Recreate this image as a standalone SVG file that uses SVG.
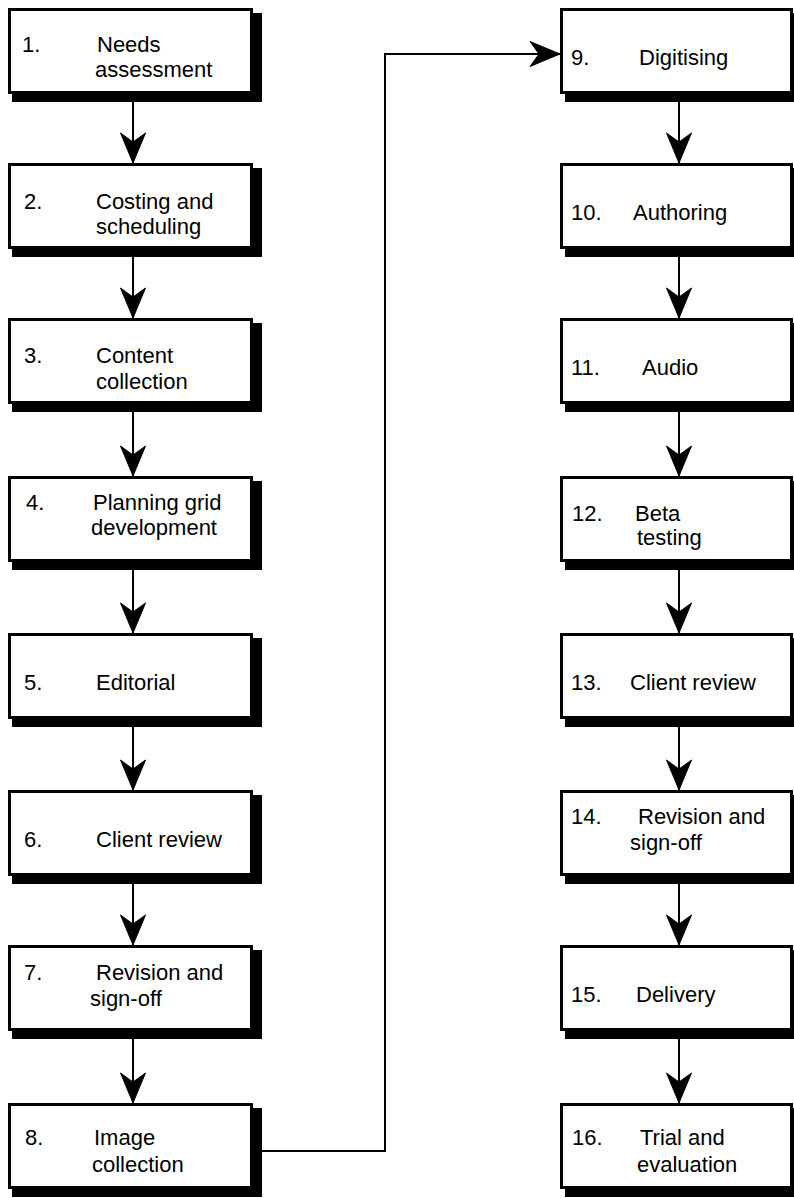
<svg xmlns="http://www.w3.org/2000/svg" width="794" height="1198" viewBox="0 0 794 1198">
<style>
.sh{fill:#000;stroke:none}
.bx{fill:#fff;stroke:#000;stroke-width:3}
.t{font-family:"Liberation Sans",Arial,sans-serif;font-size:22px;fill:#000}
.c{fill:none;stroke:#000;stroke-width:2}
</style>
<defs>
<marker id="ah" markerUnits="userSpaceOnUse" markerWidth="32" markerHeight="28" viewBox="-31 -14 32 28" refX="0" refY="0" orient="auto">
<path d="M0,0 L-30,-12.5 L-21,0 L-30,12.5 Z" fill="#000" stroke="#000" stroke-width="1"/>
</marker>
</defs>
<rect width="794" height="1198" fill="#fff"/>
<g id="connectors">
<line class="c" x1="133" y1="102" x2="133" y2="163" marker-end="url(#ah)"/>
<line class="c" x1="133" y1="257" x2="133" y2="318" marker-end="url(#ah)"/>
<line class="c" x1="133" y1="412" x2="133" y2="476" marker-end="url(#ah)"/>
<line class="c" x1="133" y1="570" x2="133" y2="633" marker-end="url(#ah)"/>
<line class="c" x1="133" y1="727" x2="133" y2="790" marker-end="url(#ah)"/>
<line class="c" x1="133" y1="884" x2="133" y2="945" marker-end="url(#ah)"/>
<line class="c" x1="133" y1="1039" x2="133" y2="1103" marker-end="url(#ah)"/>
<polyline class="c" points="262,1151 385,1151 385,54 560,54" marker-end="url(#ah)"/>
<line class="c" x1="679" y1="102" x2="679" y2="163" marker-end="url(#ah)"/>
<line class="c" x1="679" y1="257" x2="679" y2="318" marker-end="url(#ah)"/>
<line class="c" x1="679" y1="412" x2="679" y2="476" marker-end="url(#ah)"/>
<line class="c" x1="679" y1="570" x2="679" y2="633" marker-end="url(#ah)"/>
<line class="c" x1="679" y1="727" x2="679" y2="790" marker-end="url(#ah)"/>
<line class="c" x1="679" y1="884" x2="679" y2="945" marker-end="url(#ah)"/>
<line class="c" x1="679" y1="1039" x2="679" y2="1103" marker-end="url(#ah)"/>
</g>
<g id="n1"><rect class="sh" x="12" y="13" width="250" height="89"/><rect class="bx" x="9.5" y="9.5" width="242" height="83"/>
<text class="t" x="22" y="52">1.</text><text class="t" x="97" y="52">Needs</text><text class="t" x="95" y="77">assessment</text></g>
<g id="n2"><rect class="sh" x="12" y="168" width="250" height="89"/><rect class="bx" x="9.5" y="164.5" width="242" height="83"/>
<text class="t" x="24" y="209">2.</text><text class="t" x="96" y="209">Costing and</text><text class="t" x="96" y="234">scheduling</text></g>
<g id="n3"><rect class="sh" x="12" y="323" width="250" height="89"/><rect class="bx" x="9.5" y="319.5" width="242" height="83"/>
<text class="t" x="24" y="363">3.</text><text class="t" x="96" y="363">Content</text><text class="t" x="96" y="389">collection</text></g>
<g id="n4"><rect class="sh" x="12" y="481" width="250" height="89"/><rect class="bx" x="9.5" y="477.5" width="242" height="83"/>
<text class="t" x="26" y="510">4.</text><text class="t" x="93" y="510">Planning grid</text><text class="t" x="91" y="535">development</text></g>
<g id="n5"><rect class="sh" x="12" y="638" width="250" height="89"/><rect class="bx" x="9.5" y="634.5" width="242" height="83"/>
<text class="t" x="24" y="690">5.</text><text class="t" x="96" y="690">Editorial</text></g>
<g id="n6"><rect class="sh" x="12" y="795" width="250" height="89"/><rect class="bx" x="9.5" y="791.5" width="242" height="83"/>
<text class="t" x="24" y="847">6.</text><text class="t" x="96" y="847">Client review</text></g>
<g id="n7"><rect class="sh" x="12" y="950" width="250" height="89"/><rect class="bx" x="9.5" y="946.5" width="242" height="83"/>
<text class="t" x="24" y="980">7.</text><text class="t" x="96" y="980">Revision and</text><text class="t" x="90" y="1006">sign-off</text></g>
<g id="n8"><rect class="sh" x="12" y="1108" width="250" height="89"/><rect class="bx" x="9.5" y="1104.5" width="242" height="83"/>
<text class="t" x="25" y="1145">8.</text><text class="t" x="94" y="1145">Image</text><text class="t" x="92" y="1172">collection</text></g>
<g id="n9"><rect class="sh" x="565" y="13" width="240" height="89"/><rect class="bx" x="561.5" y="9.5" width="230" height="83"/>
<text class="t" x="571" y="65">9.</text><text class="t" x="639" y="65">Digitising</text></g>
<g id="n10"><rect class="sh" x="565" y="168" width="240" height="89"/><rect class="bx" x="561.5" y="164.5" width="230" height="83"/>
<text class="t" x="571" y="220">10.</text><text class="t" x="633" y="220">Authoring</text></g>
<g id="n11"><rect class="sh" x="565" y="323" width="240" height="89"/><rect class="bx" x="561.5" y="319.5" width="230" height="83"/>
<text class="t" x="571" y="375">11.</text><text class="t" x="642" y="375">Audio</text></g>
<g id="n12"><rect class="sh" x="565" y="481" width="240" height="89"/><rect class="bx" x="561.5" y="477.5" width="230" height="83"/>
<text class="t" x="572" y="521">12.</text><text class="t" x="635" y="521">Beta</text><text class="t" x="637" y="545">testing</text></g>
<g id="n13"><rect class="sh" x="565" y="638" width="240" height="89"/><rect class="bx" x="561.5" y="634.5" width="230" height="83"/>
<text class="t" x="571" y="690">13.</text><text class="t" x="630" y="690">Client review</text></g>
<g id="n14"><rect class="sh" x="565" y="795" width="240" height="89"/><rect class="bx" x="561.5" y="791.5" width="230" height="83"/>
<text class="t" x="571" y="824">14.</text><text class="t" x="638" y="824">Revision and</text><text class="t" x="630" y="850">sign-off</text></g>
<g id="n15"><rect class="sh" x="565" y="950" width="240" height="89"/><rect class="bx" x="561.5" y="946.5" width="230" height="83"/>
<text class="t" x="571" y="1002">15.</text><text class="t" x="636" y="1002">Delivery</text></g>
<g id="n16"><rect class="sh" x="565" y="1108" width="240" height="89"/><rect class="bx" x="561.5" y="1104.5" width="230" height="83"/>
<text class="t" x="572" y="1145">16.</text><text class="t" x="640" y="1145">Trial and</text><text class="t" x="637" y="1172">evaluation</text></g>
</svg>
